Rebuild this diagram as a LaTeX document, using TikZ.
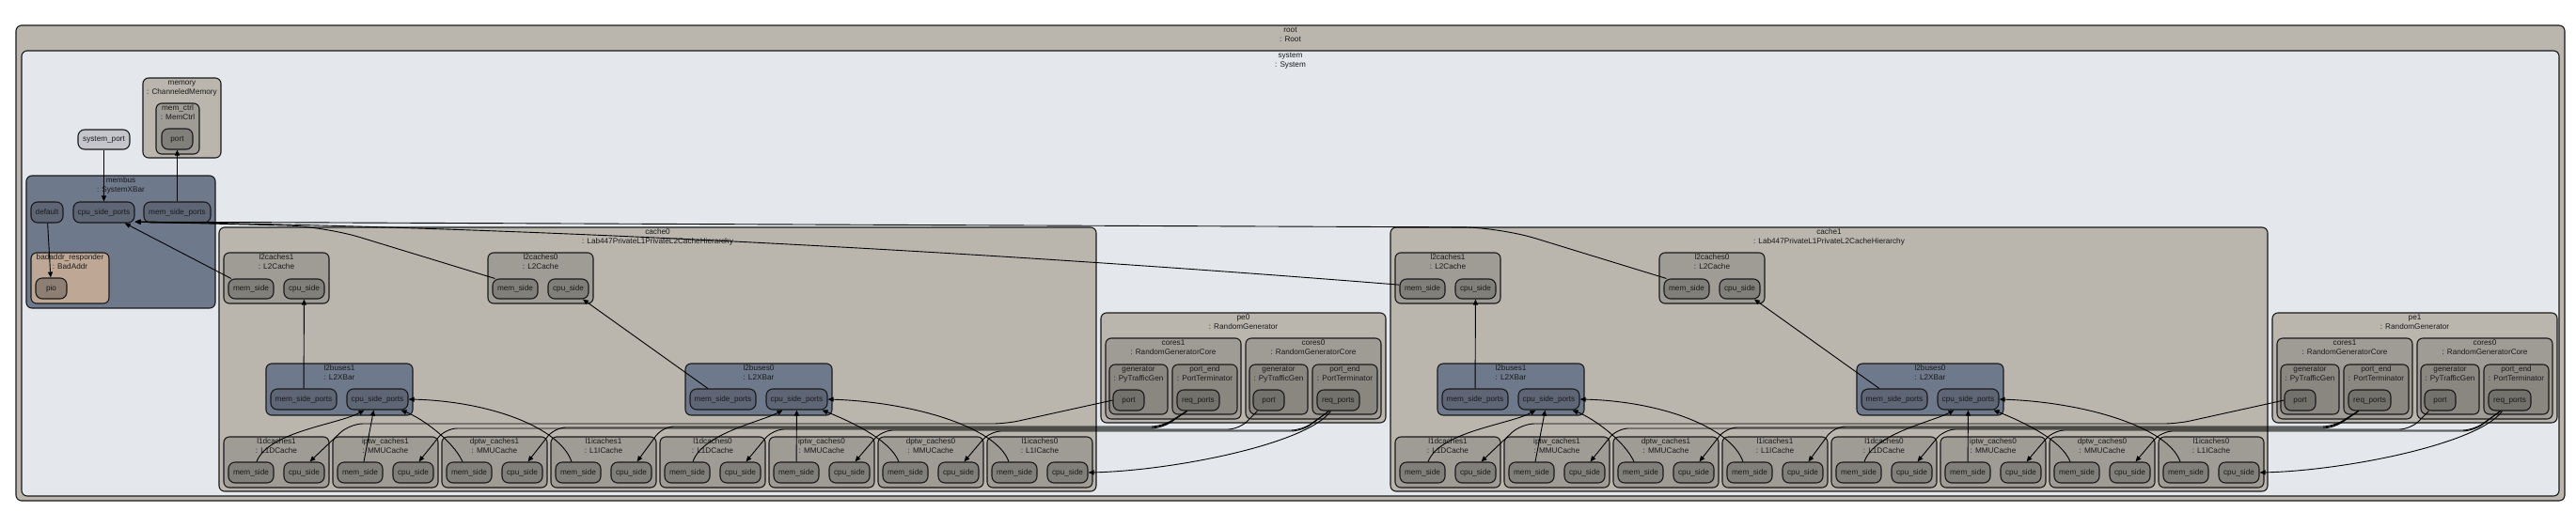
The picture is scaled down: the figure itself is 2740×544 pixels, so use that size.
\documentclass[tikz,border=0pt]{standalone}
\usepackage{fontspec}
\setmainfont{Liberation Sans}
\usetikzlibrary{arrows.meta}
\definecolor{cRoot}{HTML}{BAB6AE}
\definecolor{cSys}{HTML}{E4E7EB}
\definecolor{cXbar}{HTML}{6F798C}
\definecolor{cXport}{HTML}{5E6676}
\definecolor{cSub}{HTML}{9F9C96}
\definecolor{cSubPort}{HTML}{817F7A}
\definecolor{cSysPort}{HTML}{C4C6CB}
\definecolor{cBad}{HTML}{BFA796}
\definecolor{cPio}{HTML}{8E7F74}
\definecolor{cGen}{HTML}{8A8781}
\definecolor{cGenPort}{HTML}{73716C}
\newcommand\dfont{\fontsize{8.2}{9.2}\selectfont}
\tikzset{
 box/.style={draw=black!90, line width=1.1pt, rounded corners=6pt, inner sep=0pt},
 ttl/.style={font=\dfont, align=center, inner sep=0pt, text=black!90},
 prt/.style={box, rounded corners=7pt, font=\dfont, text height=6pt, text depth=1.6pt, text=black!90},
 conn/.style={draw=black, line width=0.9pt, -{Triangle[length=6pt,width=5pt]}},
}
\newcommand\mybox[7]{%
 \node[box, fill=#6, minimum width={(#4)-(#2)}, minimum height={(#5)-(#3)}] (#1) at ({((#2)+(#4))/2},{((#3)+(#5))/2}) {};
 \node[ttl, anchor=north] (#1-t) at ([yshift=-1.8pt]#1.north) {\strut #7};}
\newcommand\myport[7]{%
 \node[prt, fill=#6, minimum width={(#4)-(#2)}, minimum height={(#5)-(#3)}] (#1) at ({((#2)+(#4))/2},{((#3)+(#5))/2}) {#7};}
\newcommand\lone[4]{%
 \mybox{#1}{#2}{465}{#2+112}{519}{cSub}{#3\\#4}
 \myport{#1-mem}{#2+5}{492}{#2+53}{514}{cSubPort}{mem\_side}
 \myport{#1-cpu}{#2+64}{492}{#2+107}{514}{cSubPort}{cpu\_side}}
\newcommand\drawcache[3]{%
 \mybox{#1}{#2+233}{242}{#2+1166}{523}{cRoot}{cache#3\\: Lab447PrivateL1PrivateL2CacheHierarchy}
 \mybox{#1-l2c1}{#2+238}{269}{#2+350}{323}{cSub}{l2caches1\\: L2Cache}
 \myport{#1-l2c1-mem}{#2+243}{297}{#2+291}{318}{cSubPort}{mem\_side}
 \myport{#1-l2c1-cpu}{#2+302}{297}{#2+345}{318}{cSubPort}{cpu\_side}
 \mybox{#1-l2c0}{#2+519}{269}{#2+631}{323}{cSub}{l2caches0\\: L2Cache}
 \myport{#1-l2c0-mem}{#2+524}{297}{#2+572}{318}{cSubPort}{mem\_side}
 \myport{#1-l2c0-cpu}{#2+583}{297}{#2+626}{318}{cSubPort}{cpu\_side}
 \mybox{#1-l2b1}{#2+283}{387}{#2+439}{442}{cXbar}{l2buses1\\: L2XBar}
 \myport{#1-l2b1-msp}{#2+288}{414}{#2+358}{436}{cXport}{mem\_side\_ports}
 \myport{#1-l2b1-csp}{#2+369}{414}{#2+434}{436}{cXport}{cpu\_side\_ports}
 \mybox{#1-l2b0}{#2+729}{387}{#2+885}{442}{cXbar}{l2buses0\\: L2XBar}
 \myport{#1-l2b0-msp}{#2+734}{414}{#2+804}{436}{cXport}{mem\_side\_ports}
 \myport{#1-l2b0-csp}{#2+815}{414}{#2+880}{436}{cXport}{cpu\_side\_ports}
 \lone{#1-l1d1}{#2+238}{l1dcaches1}{: L1DCache}
 \lone{#1-iptw1}{#2+354}{iptw\_caches1}{: MMUCache}
 \lone{#1-dptw1}{#2+470}{dptw\_caches1}{: MMUCache}
 \lone{#1-l1i1}{#2+586}{l1icaches1}{: L1ICache}
 \lone{#1-l1d0}{#2+702}{l1dcaches0}{: L1DCache}
 \lone{#1-iptw0}{#2+818}{iptw\_caches0}{: MMUCache}
 \lone{#1-dptw0}{#2+934}{dptw\_caches0}{: MMUCache}
 \lone{#1-l1i0}{#2+1050}{l1icaches0}{: L1ICache}}
\newcommand\drawpe[3]{%
 \mybox{#1}{#2+1171}{333}{#2+1474}{450}{cRoot}{pe#3\\: RandomGenerator}
 \mybox{#1-c1}{#2+1176}{360}{#2+1320}{446}{cSub}{cores1\\: RandomGeneratorCore}
 \mybox{#1-c1-gen}{#2+1180}{388}{#2+1242}{441}{cGen}{generator\\: PyTrafficGen}
 \myport{#1-c1-port}{#2+1184}{415}{#2+1217}{437}{cGenPort}{port}
 \mybox{#1-c1-end}{#2+1247}{388}{#2+1316}{441}{cGen}{port\_end\\: PortTerminator}
 \myport{#1-c1-req}{#2+1252}{415}{#2+1297}{437}{cGenPort}{req\_ports}
 \mybox{#1-c0}{#2+1325}{360}{#2+1469}{446}{cSub}{cores0\\: RandomGeneratorCore}
 \mybox{#1-c0-gen}{#2+1329}{388}{#2+1391}{441}{cGen}{generator\\: PyTrafficGen}
 \myport{#1-c0-port}{#2+1333}{415}{#2+1366}{437}{cGenPort}{port}
 \mybox{#1-c0-end}{#2+1396}{388}{#2+1465}{441}{cGen}{port\_end\\: PortTerminator}
 \myport{#1-c0-req}{#2+1401}{415}{#2+1446}{437}{cGenPort}{req\_ports}}
\newcommand\cacheedges[1]{%
 \draw[conn] (#1-l2b1-msp) -- (#1-l2c1-cpu);
 \draw[conn] (#1-l2b0-msp) -- (#1-l2c0-cpu);
 \draw[conn] ([xshift=6pt]#1-l1d1-mem.north) .. controls +(12,-32) and +(-27,15) .. ([xshift=-14pt]#1-l2b1-csp.south);
 \draw[conn] ([xshift=4pt]#1-iptw1-mem.north) -- ([xshift=-4pt]#1-l2b1-csp.south);
 \draw[conn] ([xshift=-7pt]#1-dptw1-mem.north) .. controls +(-10,-22) and +(23,9) .. ([xshift=25pt]#1-l2b1-csp.south);
 \draw[conn] ([xshift=-7pt]#1-l1i1-mem.north) .. controls +(-13,-37) and +(85,2) .. (#1-l2b1-csp.east);
 \draw[conn] ([xshift=6pt]#1-l1d0-mem.north) .. controls +(10,-30) and +(-22,12) .. ([xshift=-15pt]#1-l2b0-csp.south);
 \draw[conn] (#1-iptw0-mem) -- (#1-l2b0-csp);
 \draw[conn] ([xshift=-7pt]#1-dptw0-mem.north) .. controls +(-10,-25) and +(25,10) .. ([xshift=27pt]#1-l2b0-csp.south);
 \draw[conn] ([xshift=-6pt]#1-l1i0-mem.north) .. controls +(-13,-37) and +(90,3) .. (#1-l2b0-csp.east);}
\newcommand\links[3]{%
 \draw[conn, rounded corners=14pt] (#1-c1-port.west) -- ({#3+1070},451) -- ({#3+372},451) -- ([xshift=6pt]#2-l1d1-cpu.north);
 \draw[conn, rounded corners=12pt] ([xshift=-12pt]#1-c1-req.south) -- ({#3+1236},454) -- ({#3+705},454) -- ([xshift=6pt]#2-l1i1-cpu.north);
 \draw[conn, rounded corners=12pt] ([xshift=-12pt]#1-c1-req.south) -- ({#3+1236},455) -- ({#3+590},455) -- ([xshift=6pt]#2-dptw1-cpu.north);
 \draw[conn, rounded corners=12pt] ([xshift=-12pt]#1-c1-req.south) -- ({#3+1236},456) -- ({#3+474},456) -- ([xshift=6pt]#2-iptw1-cpu.north);
 \draw[conn, rounded corners=12pt] ([xshift=-12pt]#1-c0-port.south) -- ({#3+1318},457) -- ({#3+822},457) -- ([xshift=6pt]#2-l1d0-cpu.north);
 \draw[conn, rounded corners=12pt] ([xshift=-10pt]#1-c0-req.south) -- ({#3+1385},458) -- ({#3+938},458) -- ([xshift=6pt]#2-iptw0-cpu.north);
 \draw[conn, rounded corners=12pt] ([xshift=-10pt]#1-c0-req.south) -- ({#3+1385},459) -- ({#3+1053},459) -- ([xshift=6pt]#2-dptw0-cpu.north);
 \draw[conn] ([xshift=-8pt]#1-c0-req.south) .. controls +(-25,35) and +(90,-2) .. (#2-l1i0-cpu.east);}
\begin{document}
\begin{tikzpicture}[x=1pt,y=-1pt]
\useasboundingbox (0,0) rectangle (2740,544);
\fill[white] (0,0) rectangle (2740,544);
\mybox{root}{17}{27}{2728}{533}{cRoot}{root\\: Root}
\mybox{system}{23}{54}{2722}{528}{cSys}{system\\: System}
\mybox{memory}{152}{83}{235}{168}{cRoot}{memory\\: ChanneledMemory}
\mybox{memctrl}{166}{110}{212}{164}{cSub}{mem\_ctrl\\: MemCtrl}
\myport{memport}{172}{137}{205}{159}{cSubPort}{port}
\myport{sysport}{83}{138}{138}{159}{cSysPort}{system\_port}
\mybox{membus}{28}{187}{229}{328}{cXbar}{membus\\: SystemXBar}
\myport{membus-def}{33}{215}{67}{237}{cXport}{default}
\myport{membus-csp}{78}{215}{143}{237}{cXport}{cpu\_side\_ports}
\myport{membus-msp}{153}{215}{224}{237}{cXport}{mem\_side\_ports}
\mybox{bad}{33}{269}{116}{323}{cBad}{badaddr\_responder\\: BadAddr}
\myport{pio}{38}{296}{71}{318}{cPio}{pio}
\drawcache{c0}{0}{0}
\drawcache{c1}{1246}{1}
\drawpe{p0}{0}{0}
\drawpe{p1}{1246}{1}
% system level connectors
\draw[conn] (sysport) -- (membus-csp);
\draw[conn] (membus-msp) -- (memport);
\draw[conn] (membus-def) -- (pio);
\draw[conn] (c0-l2c1-mem) -- (membus-csp);
\draw[conn, rounded corners=40pt] ([xshift=3pt]c0-l2c0-mem.north west) -- (345,241) -- (membus-csp.-17);
\draw[conn, rounded corners=40pt] ([xshift=3pt]c1-l2c0-mem.north west) -- (1595,242) -- (membus-csp.-17);
\draw[conn] (c1-l2c1-mem.170) .. controls (1100,272) and (600,242) .. (membus-csp.-17);
\cacheedges{c0}
\cacheedges{c1}
\links{p0}{c0}{0}
\links{p1}{c1}{1246}
\end{tikzpicture}
\end{document}
